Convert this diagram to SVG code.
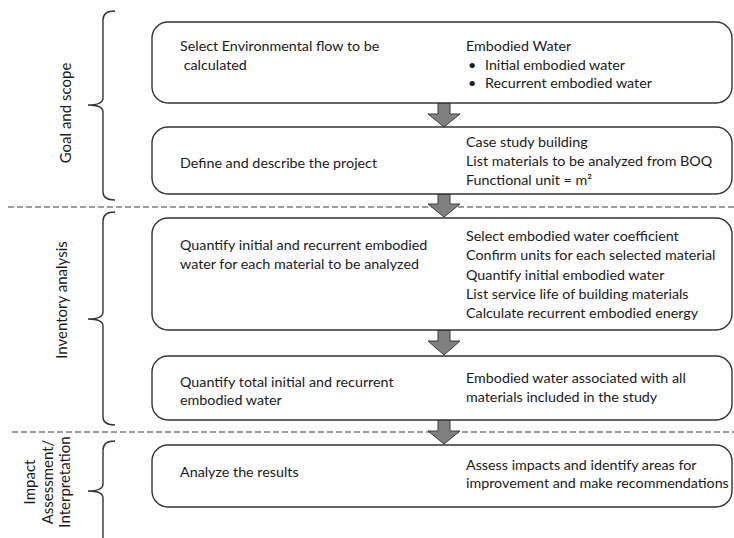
<svg xmlns="http://www.w3.org/2000/svg" width="734" height="538" viewBox="0 0 734 538">
<style>
.box{fill:#fff;stroke:#333;stroke-width:1.4}
.t{font-family:Lato,"Liberation Sans",Arial,sans-serif;font-size:14.3px;fill:#1a1a1a}
.lbl{font-size:15px}
.br{fill:none;stroke:#333;stroke-width:1.4}
.dash{stroke:#3a3a3a;stroke-width:1.2;stroke-dasharray:6,3;fill:none}
.arr{fill:#808080;stroke:#3a3a3a;stroke-width:1}
</style>
<rect width="734" height="538" fill="#fff"/>
<g id="separators">
<line class="dash" x1="8" y1="207" x2="734" y2="207"/>
<line class="dash" x1="12" y1="432" x2="734" y2="432"/>
</g>
<g id="braces">
<path class="br" d="M115,11 Q103,11 103,20 L103,98 Q103,105 88,105 Q103,105 103,112 L103,192 Q103,200 115,200"/>
<path class="br" d="M115,212 Q103,212 103,221 L103,312 Q103,319 88,319 Q103,319 103,326 L103,417 Q103,425 115,425"/>
<path class="br" d="M115,441 Q103,441 103,450 L103,484 Q103,491 88,491 Q103,491 103,498 L103,538"/>
</g>
<g id="phase-labels">
<text class="t lbl" transform="translate(71,113) rotate(-90)" text-anchor="middle">Goal and scope</text>
<text class="t lbl" transform="translate(67,300) rotate(-90)" text-anchor="middle">Inventory analysis</text>
<text class="t lbl" transform="translate(35,482) rotate(-90)" text-anchor="middle">Impact</text>
<text class="t lbl" transform="translate(53,482) rotate(-90)" text-anchor="middle">Assessment/</text>
<text class="t lbl" transform="translate(70,482) rotate(-90)" text-anchor="middle">Interpretation</text>
</g>
<g id="connectors">
<polygon class="arr" points="438,103 450,103 450,114 460,114 444,127 428,114 438,114"/>
<polygon class="arr" points="438,194 450,194 450,204 460,204 444,217 428,204 438,204"/>
<polygon class="arr" points="438,330 450,330 450,341 460,341 444,355 428,341 438,341"/>
<polygon class="arr" points="438,420 450,420 450,431 460,431 444,444 428,431 438,431"/>
</g>
<g id="node1">
<rect class="box" x="152" y="22" width="580" height="81" rx="16"/>
<text class="t" x="180" y="51">Select Environmental flow to be</text>
<text class="t" x="180" y="70" xml:space="preserve"> calculated</text>
<text class="t" x="466" y="51">Embodied Water</text>
<text class="t" x="468" y="70">•</text>
<text class="t" x="485" y="70">Initial embodied water</text>
<text class="t" x="468" y="88">•</text>
<text class="t" x="485" y="88">Recurrent embodied water</text>
</g>
<g id="node2">
<rect class="box" x="152" y="127" width="580" height="67" rx="16"/>
<text class="t" x="180" y="168">Define and describe the project</text>
<text class="t" x="466" y="147">Case study building</text>
<text class="t" x="466" y="166">List materials to be analyzed from BOQ</text>
<text class="t" x="466" y="185">Functional unit = m²</text>
</g>
<g id="node3">
<rect class="box" x="152" y="218" width="580" height="112" rx="16"/>
<text class="t" x="180" y="250">Quantify initial and recurrent embodied</text>
<text class="t" x="180" y="269">water for each material to be analyzed</text>
<text class="t" x="466" y="241">Select embodied water coefficient</text>
<text class="t" x="466" y="260">Confirm units for each selected material</text>
<text class="t" x="466" y="280">Quantify initial embodied water</text>
<text class="t" x="466" y="299">List service life of building materials</text>
<text class="t" x="466" y="318">Calculate recurrent embodied energy</text>
</g>
<g id="node4">
<rect class="box" x="152" y="356" width="580" height="64" rx="16"/>
<text class="t" x="180" y="387">Quantify total initial and recurrent</text>
<text class="t" x="180" y="405">embodied water</text>
<text class="t" x="466" y="383">Embodied water associated with all</text>
<text class="t" x="466" y="402">materials included in the study</text>
</g>
<g id="node5">
<rect class="box" x="152" y="445" width="580" height="62" rx="16"/>
<text class="t" x="180" y="477">Analyze the results</text>
<text class="t" x="466" y="470">Assess impacts and identify areas for</text>
<text class="t" x="466" y="488">improvement and make recommendations</text>
</g>
</svg>
